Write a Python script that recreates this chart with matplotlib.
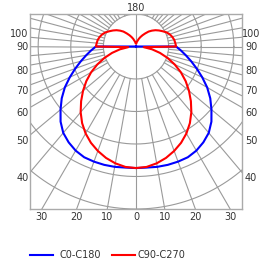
import numpy as np
import matplotlib
matplotlib.use("Agg")
import matplotlib.pyplot as plt
from matplotlib.lines import Line2D

# gamma angle from nadir (deg) and luminous intensity per half plane
gamma = [0, 5, 10, 15, 20, 25, 30, 35, 40, 45, 50, 55, 60, 65, 70, 75, 80, 85, 90,
         95, 100, 105, 110, 115, 120, 125, 130, 135, 140, 145, 150, 155, 160, 165, 170, 175, 180]
c0_c180 = [374, 374, 376, 377, 377, 376, 370, 360, 347, 327, 302, 278, 252, 224, 198, 175, 155, 138, 123,
           0, 0, 0, 0, 0, 0, 0, 0, 0, 0, 0, 0, 0, 0, 0, 0, 0, 0]
c90_c270 = [374, 372, 365, 355, 342, 327, 309, 288, 264, 238, 212, 186, 159, 131, 103, 76, 50, 24, 123,
            121, 119, 115, 110, 103, 94, 86, 78, 69, 60, 49, 40, 32, 25, 18, 14, 11, 10]

ring_levels = [100, 200, 300, 400, 500]
side_labels = [40, 50, 60, 70, 80, 90, 100]
bottom_labels = [0, 10, 20, 30]
series_names = ["C0-C180", "C90-C270"]
series_colors = ["#0000ff", "#ff0000"]

XMAX, YTOP, YBOT = 325, 100, -500
GRID = "#9a9a9a"
TXT = "#333333"


def half_planes(values):
    g = np.radians(gamma)
    r = np.asarray(values, dtype=float)
    # left half plane (C180 / C270) mirrored, then right half plane
    x = np.concatenate([-r[::-1] * np.sin(g[::-1]), r * np.sin(g)])
    y = np.concatenate([-r[::-1] * np.cos(g[::-1]), -r * np.cos(g)])
    return x, y


fig = plt.figure(figsize=(2.75, 2.65), dpi=100)
ax = fig.add_axes([30 / 275, 56 / 265, 212 / 275, 195 / 265])
ax.set_xlim(-XMAX, XMAX)
ax.set_ylim(YBOT, YTOP)
ax.set_xticks([])
ax.set_yticks([])
for s in ax.spines.values():
    s.set_color("#aaaaaa")
    s.set_linewidth(1.0)

t = np.linspace(0, 2 * np.pi, 400)
for lvl in ring_levels:
    ax.plot(lvl * np.cos(t), lvl * np.sin(t), color=GRID, lw=0.8, zorder=1)

for a in range(0, 360, 5):
    from_nadir = min(a, 360 - a)
    if a % 10 != 0 and not (65 <= from_nadir <= 145):
        continue
    r0 = 0 if a % 90 == 0 else ring_levels[0]
    rad = np.radians(a)
    ax.plot([r0 * np.sin(rad), 1000 * np.sin(rad)], [-r0 * np.cos(rad), -1000 * np.cos(rad)],
            color=GRID, lw=0.8, zorder=1)

for vals, col in zip([c0_c180, c90_c270], series_colors):
    x, y = half_planes(vals)
    ax.plot(x, y, color=col, lw=1.5, zorder=3, solid_joinstyle="round")

# angle labels where the rays leave the frame
for ang in side_labels:
    yy = 0 if ang == 90 else -XMAX / np.tan(np.radians(ang)) - 18
    ax.text(XMAX + 28, yy, str(ang), ha="center", va="center", fontsize=7, color=TXT, clip_on=False)
    ax.text(-XMAX - 5, yy, str(ang), ha="right", va="center", fontsize=7, color=TXT, clip_on=False)
for ang in bottom_labels:
    xx = -YBOT * np.tan(np.radians(ang))
    ax.text(xx, YBOT - 24, str(ang), ha="center", va="center", fontsize=7, color=TXT, clip_on=False)
    if ang:
        ax.text(-xx, YBOT - 24, str(ang), ha="center", va="center", fontsize=7, color=TXT, clip_on=False)
ax.text(0, YTOP + 4, "180", ha="center", va="bottom", fontsize=7, color=TXT, clip_on=False)

# legend
ly = 10 / 265
for (x0, x1, tx), name, col in zip([(30, 53, 60), (112, 135, 137)], series_names, series_colors):
    fig.add_artist(Line2D([x0 / 275, x1 / 275], [ly, ly], color=col, lw=1.5))
    fig.text(tx / 275, ly, name, ha="left", va="center", fontsize=7, color=TXT)

fig.savefig("out.png", dpi=100)
